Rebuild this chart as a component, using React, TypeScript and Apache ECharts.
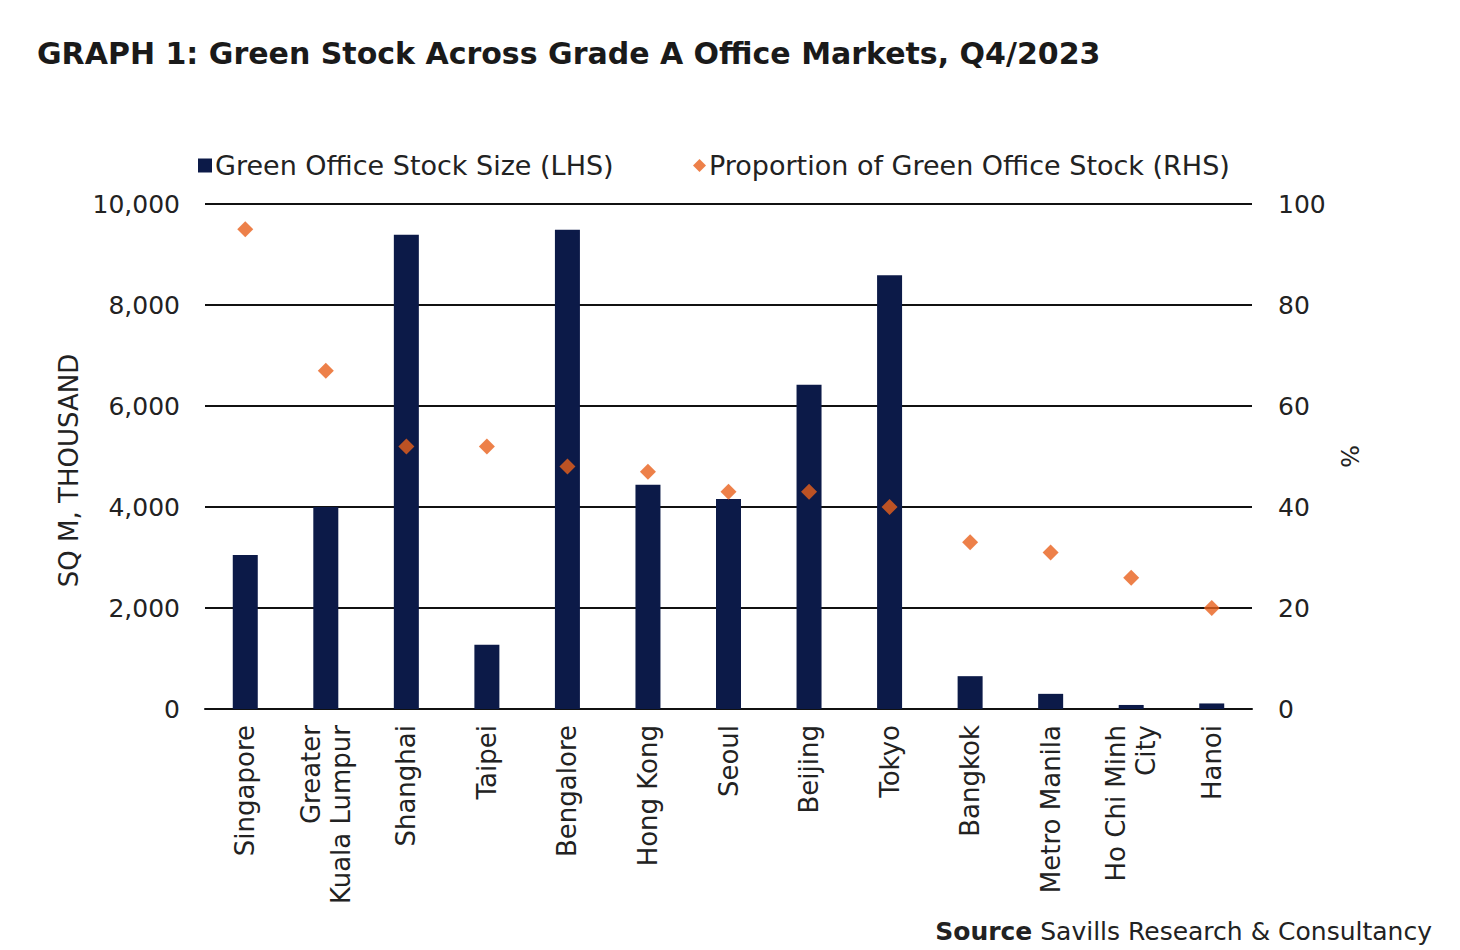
import React, { useEffect, useRef } from "react";
import * as echarts from "echarts";

const categories = [
  "Singapore",
  "Greater\nKuala Lumpur",
  "Shanghai",
  "Taipei",
  "Bengalore",
  "Hong Kong",
  "Seoul",
  "Beijing",
  "Tokyo",
  "Bangkok",
  "Metro Manila",
  "Ho Chi Minh\nCity",
  "Hanoi",
];
const stockSize = [3050, 4000, 9390, 1270, 9490, 4440, 4160, 6420, 8590, 650, 300, 80, 110];
const proportion = [95, 67, 52, 52, 48, 47, 43, 43, 40, 33, 31, 26, 20];

const NAVY = "#0c1a48";
const ORANGE = "#e8601c";
const FONT = "'DejaVu Sans', 'Noto Sans', sans-serif";

export default function App() {
  const ref = useRef<HTMLDivElement>(null);
  useEffect(() => {
    if (!ref.current) return;
    const chart = echarts.init(ref.current, null, { renderer: "svg" });
    chart.setOption({
      animation: false,
      backgroundColor: "#ffffff",
      textStyle: { fontFamily: FONT },
      graphic: [
        {
          type: "text",
          left: 29,
          top: 30,
          style: {
            text: "GRAPH 1: Green Stock Across Grade A Office Markets, Q4/2023",
            fontFamily: FONT,
            fontWeight: "bold",
            fontSize: 30,
            fill: "#1a1a1a",
          },
        },
        {
          type: "text",
          right: 20,
          top: 911,
          style: {
            text: "{b|Source} Savills Research & Consultancy",
            fontFamily: FONT,
            fontSize: 25,
            fill: "#222",
            rich: {
              b: { fontWeight: "bold", fontSize: 25, fontFamily: FONT, fill: "#222" },
            },
          },
        },
      ],
      legend: [
        {
          data: [{ name: "Green Office Stock Size (LHS)", icon: "rect" }],
          left: 185,
          top: 139,
          itemWidth: 14,
          itemHeight: 14,
          itemGap: 4,
          textStyle: { fontSize: 27, color: "#222", fontFamily: FONT, padding: [0, 0, 0, -2] },
        },
        {
          data: [{ name: "Proportion of Green Office Stock (RHS)", icon: "diamond" }],
          left: 680,
          top: 139,
          itemWidth: 13,
          itemHeight: 13,
          textStyle: { fontSize: 27, color: "#222", fontFamily: FONT, padding: [0, 0, 0, -2] },
        },
      ],
      grid: { left: 197, right: 200, top: 196, bottom: 241, containLabel: false },
      xAxis: {
        type: "category",
        data: categories,
        axisLine: { lineStyle: { color: "#111", width: 2 } },
        axisTick: { show: false },
        axisLabel: {
          rotate: 90,
          interval: 0,
          fontSize: 26,
          color: "#222",
          margin: 16,
          lineHeight: 30,
          fontFamily: FONT,
        },
      },
      yAxis: [
        {
          type: "value",
          min: 0,
          max: 10000,
          interval: 2000,
          name: "SQ M, THOUSAND",
          nameLocation: "middle",
          nameGap: 122,
          nameRotate: 90,
          nameTextStyle: { fontSize: 26, color: "#222", fontFamily: FONT, padding: [0, 28, 0, 0] },
          axisLine: { show: false },
          axisTick: { show: false },
          axisLabel: {
            fontSize: 25,
            color: "#222",
            margin: 25,
            fontFamily: FONT,
            formatter: (v: number) => v.toLocaleString("en-US"),
          },
          splitLine: { lineStyle: { color: "#111", width: 2 } },
        },
        {
          type: "value",
          min: 0,
          max: 100,
          interval: 20,
          name: "%",
          nameLocation: "middle",
          nameGap: 76,
          nameRotate: -90,
          nameTextStyle: { fontSize: 24, color: "#222", fontFamily: FONT },
          axisLine: { show: false },
          axisTick: { show: false },
          axisLabel: { fontSize: 25, color: "#222", margin: 26, fontFamily: FONT },
          splitLine: { show: false },
        },
      ],
      series: [
        {
          name: "Green Office Stock Size (LHS)",
          type: "bar",
          data: stockSize,
          barWidth: 25,
          itemStyle: { color: NAVY },
          yAxisIndex: 0,
        },
        {
          name: "Proportion of Green Office Stock (RHS)",
          type: "scatter",
          data: proportion,
          yAxisIndex: 1,
          symbol: "diamond",
          symbolSize: 16,
          itemStyle: { color: ORANGE },
        },
      ],
    });
    return () => chart.dispose();
  }, []);
  return <div ref={ref} style={{ width: 1444, height: 942 }} />;
}
